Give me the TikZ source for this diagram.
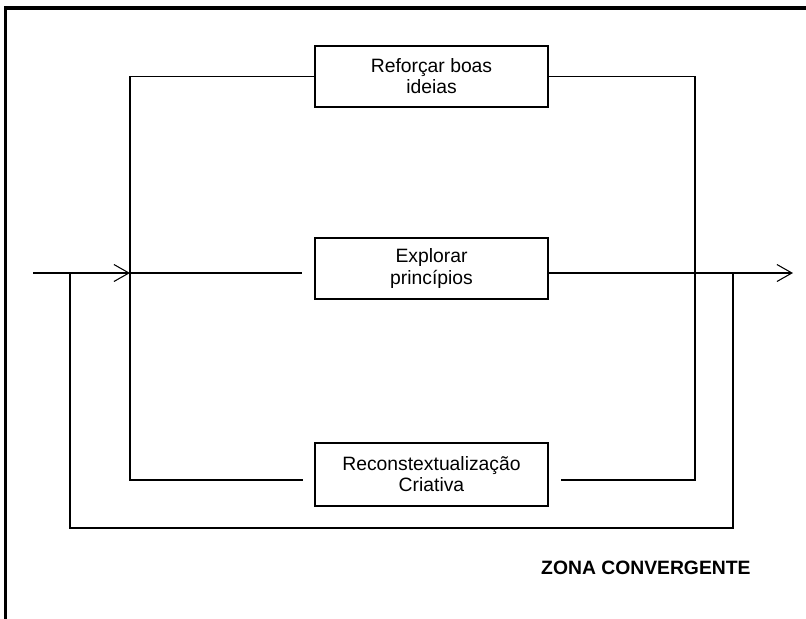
\documentclass[tikz,border=0pt]{standalone}
\usepackage{fontspec}
\setmainfont{Liberation Sans}
\usetikzlibrary{arrows.meta}
\tikzset{
  etapa/.style={draw, line width=0.6pt, minimum width=4.66cm, minimum height=1.22cm,
    align=center, inner sep=0pt, font=\fontsize{11}{12}\selectfont},
  fluxo/.style={line width=0.6pt},
  seta/.style={fluxo, -{Straight Barb[length=0.3cm,width=0.34cm]}}
}
\begin{document}
\begin{tikzpicture}[x=0.02cm,y=-0.02cm]
    \useasboundingbox (0,0) rectangle (806,619);
    % moldura
    \draw[line width=2pt] (5.5,619) -- (5.5,8) -- (806,8);
    % etapas
    \node[etapa] (reforcar) at (431.5,76.5) {Reforçar boas\\ideias};
    \node[etapa] (explorar) at (431.5,268.5) {Explorar\\princípios};
    \node[etapa, minimum height=1.26cm] (recontext) at (431.5,474.5)
    {Reconstextualização\\Criativa};
    \coordinate (entrada) at (33,273);
    \coordinate (juncao) at (130,273);
    \coordinate (meioE) at (302,273);
    \coordinate (saida) at (793,273);
    \coordinate (cantoE) at (130,480);
    \coordinate (fimE) at (303,480);
    \coordinate (cantoD) at (695,480);
    \coordinate (inicioD) at (561,480);
    \coordinate (retornoD) at (733,273);
    \coordinate (fundoE) at (70,528);
    \coordinate (retornoE) at (70,273);
    % ligacoes
    \draw[seta] (entrada) -- (juncao);
    \draw[fluxo] (juncao) -- (meioE);
    \draw[seta] (explorar.east |- juncao) -- (saida);
    \draw[fluxo] (reforcar.west) -| (cantoE) -- (fimE);
    \draw[fluxo] (reforcar.east) -| (cantoD) -- (inicioD);
    \draw[fluxo] (retornoD) |- (fundoE) -- (retornoE);
    \node[anchor=west, font=\fontsize{11}{12}\selectfont\bfseries] (zona) at (535,568)
    {ZONA CONVERGENTE};
  \end{tikzpicture}
\end{document}
